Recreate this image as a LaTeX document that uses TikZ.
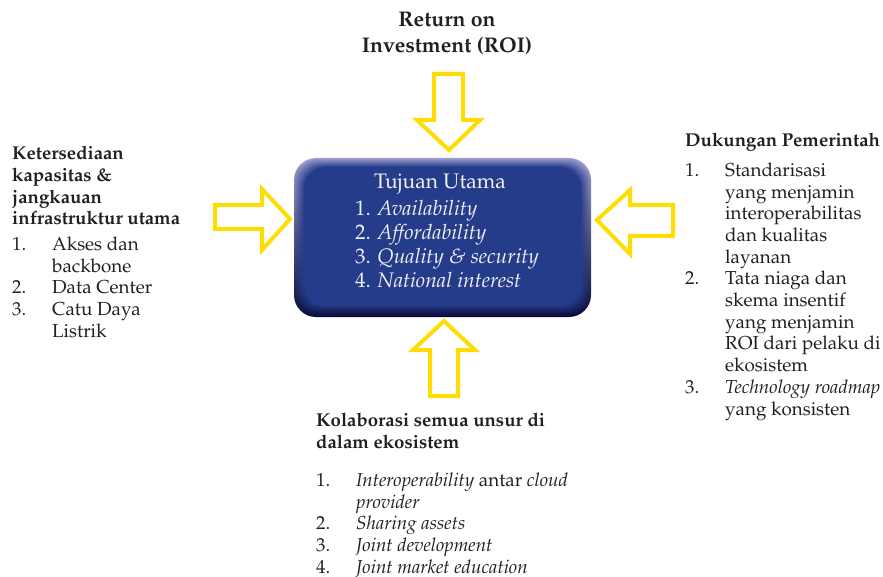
\documentclass[tikz,border=0pt]{standalone}
\usepackage[T1]{fontenc}
\usepackage{mathpazo}
\usetikzlibrary{positioning, calc}

\definecolor{arrowyellow}{RGB}{255,221,0}
\definecolor{boxblue}{RGB}{37,60,139}
\definecolor{boxtop}{RGB}{160,160,208}
\definecolor{boxside}{RGB}{22,34,105}
\definecolor{boxbottom}{RGB}{6,10,55}
\definecolor{txtgray}{RGB}{35,31,32}

\newcommand{\listfont}{\fontsize{18.8}{21.7}\selectfont}
\newcommand{\headfont}{\fontsize{18.6}{21.7}\selectfont\bfseries}
\newcommand{\numlist}[1]{\begin{tabular}{@{}p{40pt}@{}l@{}}#1\end{tabular}}

\begin{document}
\begin{tikzpicture}[x=1pt,y=-1pt,
  yarrow/.style={draw=arrowyellow, line width=4pt, fill=white, line join=miter},
  heading/.style={anchor=north west, inner sep=0pt, align=left, font=\headfont, text=txtgray},
  items/.style={anchor=north west, inner sep=0pt, font=\listfont, text=txtgray},
  goaltext/.style={inner sep=0pt, text=white!94!black, font=\fontsize{21}{24}\selectfont}]
\useasboundingbox (0,0) rectangle (883,577);

% central box with bevel
\foreach \i in {0,...,10}{
  \pgfmathsetmacro{\p}{100-10*\i}
  \shade[rounded corners=22pt, top color=boxtop!\p!boxblue, middle color=boxside!\p!boxblue,
         bottom color=boxbottom!\p!boxblue] (294+\i,158+0.9*\i) rectangle (591-\i,317-1.1*\i);
}
\node[goaltext] (goaltitle) at (440,184) {Tujuan Utama};
\node[goaltext, anchor=north west, align=left] (goallist) at (355,200)
  {1. \textit{Availability}\\ 2. \textit{Affordability}\\ 3. \textit{Quality \& security}\\ 4. \textit{National interest}};

% yellow arrows
\draw[yarrow] (434,74) -- (463,74) -- (463,120) -- (480,120) -- (449,150) -- (417,120) -- (434,120) -- cycle;
\draw[yarrow] (215,205) -- (262,205) -- (262,189) -- (290,219) -- (262,250) -- (262,229) -- (215,229) -- cycle;
\draw[yarrow] (673,205) -- (630,205) -- (630,190) -- (597,220) -- (630,254) -- (630,236) -- (673,236) -- cycle;
\draw[yarrow] (430,396) -- (458,396) -- (458,350) -- (475,350) -- (444,321) -- (413,350) -- (430,350) -- cycle;

% top
\node[align=center, inner sep=0pt, text=txtgray, font=\fontsize{21.2}{26}\selectfont\bfseries] (roi) at (447,34)
  {Return on\\Investment (ROI)};

% left
\node[heading] (infrahead) at (12,146) {Ketersediaan\\kapasitas \&\\jangkauan\\infrastruktur utama};
\node[items] (infralist) at (12,235) {\numlist{1. & Akses dan\\ & backbone\\ 2. & Data Center\\ 3. & Catu Daya\\ & Listrik}};

% right
\node[heading] (govhead) at (685,133) {Dukungan Pemerintah};
\node[items] (govlist) at (685,161) {\numlist{1. & Standarisasi\\ & yang menjamin\\ & interoperabilitas\\ & dan kualitas\\ & layanan\\
  2. & Tata niaga dan\\ & skema insentif\\ & yang menjamin\\ & ROI dari pelaku di\\ & ekosistem\\
  3. & \textit{Technology roadmap}\\ & yang konsisten}};

% bottom
\node[heading] (colhead) at (316,413) {Kolaborasi semua unsur di\\dalam ekosistem};
\node[items] (collist) at (316,471) {\numlist{1. & \textit{Interoperability} antar \textit{cloud}\\ & \textit{provider}\\
  2. & \textit{Sharing assets}\\ 3. & \textit{Joint development}\\ 4. & \textit{Joint market education}}};
\end{tikzpicture}
\end{document}
